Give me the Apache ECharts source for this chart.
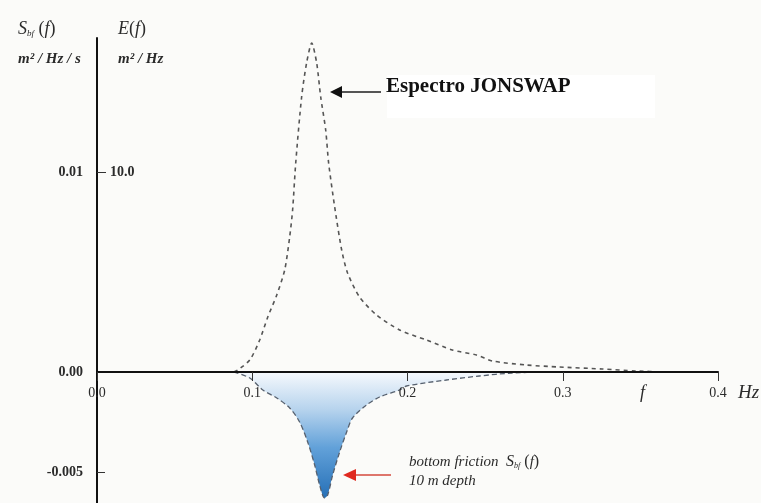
<!DOCTYPE html>
<html>
<head>
<meta charset="utf-8">
<script src="https://cdn.jsdelivr.net/npm/echarts@6/dist/echarts.min.js"></script>
<style>
html,body{margin:0;padding:0;background:#fbfbf9;}
#chart{width:761px;height:503px;}
</style>
</head>
<body>
<div id="chart"></div>
<script>
// JONSWAP spectrum E(f) [m²/Hz]
const jonswapFreq = [0.0881, 0.0907, 0.0984, 0.1048, 0.1100, 0.1158, 0.1209, 0.1241, 0.1260, 0.1280, 0.1318, 0.1350, 0.1383, 0.1415, 0.1441, 0.1473, 0.1492, 0.1531, 0.1576, 0.1614, 0.1691, 0.1801, 0.1949, 0.2122, 0.2289, 0.2444, 0.2547, 0.2765, 0.2977, 0.3254, 0.3473, 0.3666];
const jonswapE    = [0, 0.10, 0.60, 1.60, 2.75, 3.85, 5.10, 6.75, 8.10, 10.45, 13.75, 15.45, 16.45, 15.45, 13.75, 12.10, 10.45, 8.25, 6.10, 4.95, 3.75, 2.85, 2.10, 1.60, 1.10, 0.85, 0.55, 0.35, 0.25, 0.15, 0.05, 0];
// Bottom friction source term S_bf(f) [m²/Hz/s], 10 m depth
const frictionFreq = [0.0881, 0.0984, 0.1068, 0.1158, 0.1241, 0.1305, 0.1357, 0.1402, 0.1434, 0.1466, 0.1486, 0.1518, 0.1563, 0.1608, 0.1646, 0.1736, 0.1820, 0.1949, 0.1994, 0.2251, 0.2463, 0.2675, 0.2894];
const frictionS    = [0, -0.00030, -0.00090, -0.00130, -0.00180, -0.00250, -0.00350, -0.00465, -0.00565, -0.00630, -0.00615, -0.00515, -0.00400, -0.00300, -0.00230, -0.00165, -0.00125, -0.00090, -0.00070, -0.00040, -0.00020, -0.00005, 0];
// Axis ticks
const leftTickLabels = [-0.005, 0, 0.01];
const leftTickLabelText = ['-0.005', '0.00', '0.01'];
const leftTickMarks = [-0.005];
const rightTickLabels = [10];

const serif = "'Liberation Serif', 'DejaVu Serif', serif";
const txt = '#2b2b2b';

const yMin = -0.00655, yMax = 0.0167;
const gridTop = 38, gridH = 503 - gridTop;
// x axis sits on y = 0: distance of zero line from grid bottom
const zeroOffset = -Math.round(gridH * (0 - yMin) / (yMax - yMin));

const chart = echarts.init(document.getElementById('chart'));
chart.setOption({
  backgroundColor: '#fbfbf9',
  animation: false,
  grid: {left: 97, right: 43, top: gridTop, bottom: 0, outerBoundsMode: 'none'},
  xAxis: {
    type: 'value', min: 0, max: 0.4, interval: 0.1, position: 'bottom', offset: zeroOffset, z: 5,
    axisLine: {show: true, onZero: false, lineStyle: {color: '#111', width: 2}},
    axisTick: {show: true, length: 9, lineStyle: {color: '#333', width: 1}},
    axisLabel: {show: true, color: txt, fontFamily: serif, fontSize: 14, margin: 14,
      formatter: v => Number(v).toFixed(1)},
    splitLine: {show: false}
  },
  yAxis: [{
    type: 'value', min: yMin, max: yMax, z: 5,
    axisLine: {show: true, onZero: false, lineStyle: {color: '#111', width: 2}},
    axisTick: {show: true, inside: true, length: 8, customValues: leftTickMarks, lineStyle: {color: '#333'}},
    axisLabel: {customValues: leftTickLabels, color: txt, fontFamily: serif, fontSize: 14, fontWeight: 'bold', margin: 14,
      formatter: v => leftTickLabelText[leftTickLabels.findIndex(t => Math.abs(t - v) < 1e-9)] || ''},
    splitLine: {show: false}
  }, {
    type: 'value', min: -6.55, max: 16.7, position: 'left', z: 5,
    axisLine: {show: false, onZero: false},
    axisTick: {show: true, inside: true, length: 9, customValues: rightTickLabels, lineStyle: {color: '#333'}},
    axisLabel: {inside: true, customValues: rightTickLabels, color: txt, fontFamily: serif, fontSize: 14, fontWeight: 'bold', margin: 13,
      formatter: v => Number(v).toFixed(1)},
    splitLine: {show: false}
  }],
  series: [{
    name: 'bottom friction',
    type: 'line', yAxisIndex: 0, smooth: 0.3, symbol: 'none',
    data: frictionFreq.map((f, i) => [f, frictionS[i]]),
    lineStyle: {color: '#56606e', width: 1.3, type: [5, 3]},
    areaStyle: {
      origin: 0,
      opacity: 1,
      color: new echarts.graphic.LinearGradient(0, 0, 0, 1, [
        {offset: 0, color: '#f6f9fd'},
        {offset: 0.3, color: '#b6d3ed'},
        {offset: 0.6, color: '#62a1d9'},
        {offset: 1, color: '#2670b7'}
      ])
    },
    z: 2
  }, {
    name: 'Espectro JONSWAP',
    type: 'line', yAxisIndex: 1, smooth: 0.25, symbol: 'none',
    data: jonswapFreq.map((f, i) => [f, jonswapE[i]]),
    lineStyle: {color: '#555', width: 1.6, type: [4, 4]},
    z: 3
  }],
  graphic: [
    {type: 'rect', shape: {x: 387, y: 75, width: 268, height: 43}, style: {fill: '#ffffff'}, z: 1},
    {type: 'text', left: 386, top: 76, style: {text: 'Espectro JONSWAP', font: "bold 21px " + serif, fill: '#111'}, z: 10},
    {type: 'line', shape: {x1: 338, y1: 92, x2: 381, y2: 92}, style: {stroke: '#555', lineWidth: 2}, z: 10},
    {type: 'polygon', shape: {points: [[330, 92], [342, 86], [342, 98]]}, style: {fill: '#111'}, z: 10},
    {type: 'line', shape: {x1: 352, y1: 475, x2: 391, y2: 475}, style: {stroke: '#d44a3c', lineWidth: 1.5}, z: 10},
    {type: 'polygon', shape: {points: [[343, 475], [356, 469], [356, 481]]}, style: {fill: '#e02a20'}, z: 10},
    {type: 'text', left: 18, top: 20, style: {
      text: '{s|S}{sub|bf}{p| (}{i|f}{p|)}',
      rich: {
        s: {font: "italic 18px " + serif, fill: txt},
        sub: {font: "italic 9px " + serif, fill: txt, verticalAlign: 'bottom', padding: [8, 0, 0, 0]},
        p: {font: "18px " + serif, fill: txt},
        i: {font: "italic 18px " + serif, fill: txt}
      }}},
    {type: 'text', left: 18, top: 52, style: {text: 'm² / Hz / s', font: "italic bold 15px " + serif, fill: txt}},
    {type: 'text', left: 118, top: 20, style: {
      text: '{i|E}{p|(}{i|f}{p|)}',
      rich: {
        p: {font: "18px " + serif, fill: txt},
        i: {font: "italic 18px " + serif, fill: txt}
      }}},
    {type: 'text', left: 118, top: 52, style: {text: 'm² / Hz', font: "italic bold 15px " + serif, fill: txt}},
    {type: 'text', left: 640, top: 384, style: {text: 'f', font: "italic 18px " + serif, fill: txt}},
    {type: 'text', left: 738, top: 383, style: {text: 'Hz', font: "italic 19px " + serif, fill: txt}},
    {type: 'text', left: 409, top: 454, style: {
      text: '{t|bottom friction  }{s|S}{sub|bf}{p| (}{t|f}{p|)}',
      rich: {
        t: {font: "italic 15px " + serif, fill: txt},
        s: {font: "italic 16px " + serif, fill: txt},
        sub: {font: "italic 8px " + serif, fill: txt, verticalAlign: 'bottom', padding: [7, 0, 0, 0]},
        p: {font: "16px " + serif, fill: txt}
      }}},
    {type: 'text', left: 409, top: 474, style: {text: '10 m depth', font: "italic 15px " + serif, fill: txt}}
  ]
});
</script>
</body>
</html>
